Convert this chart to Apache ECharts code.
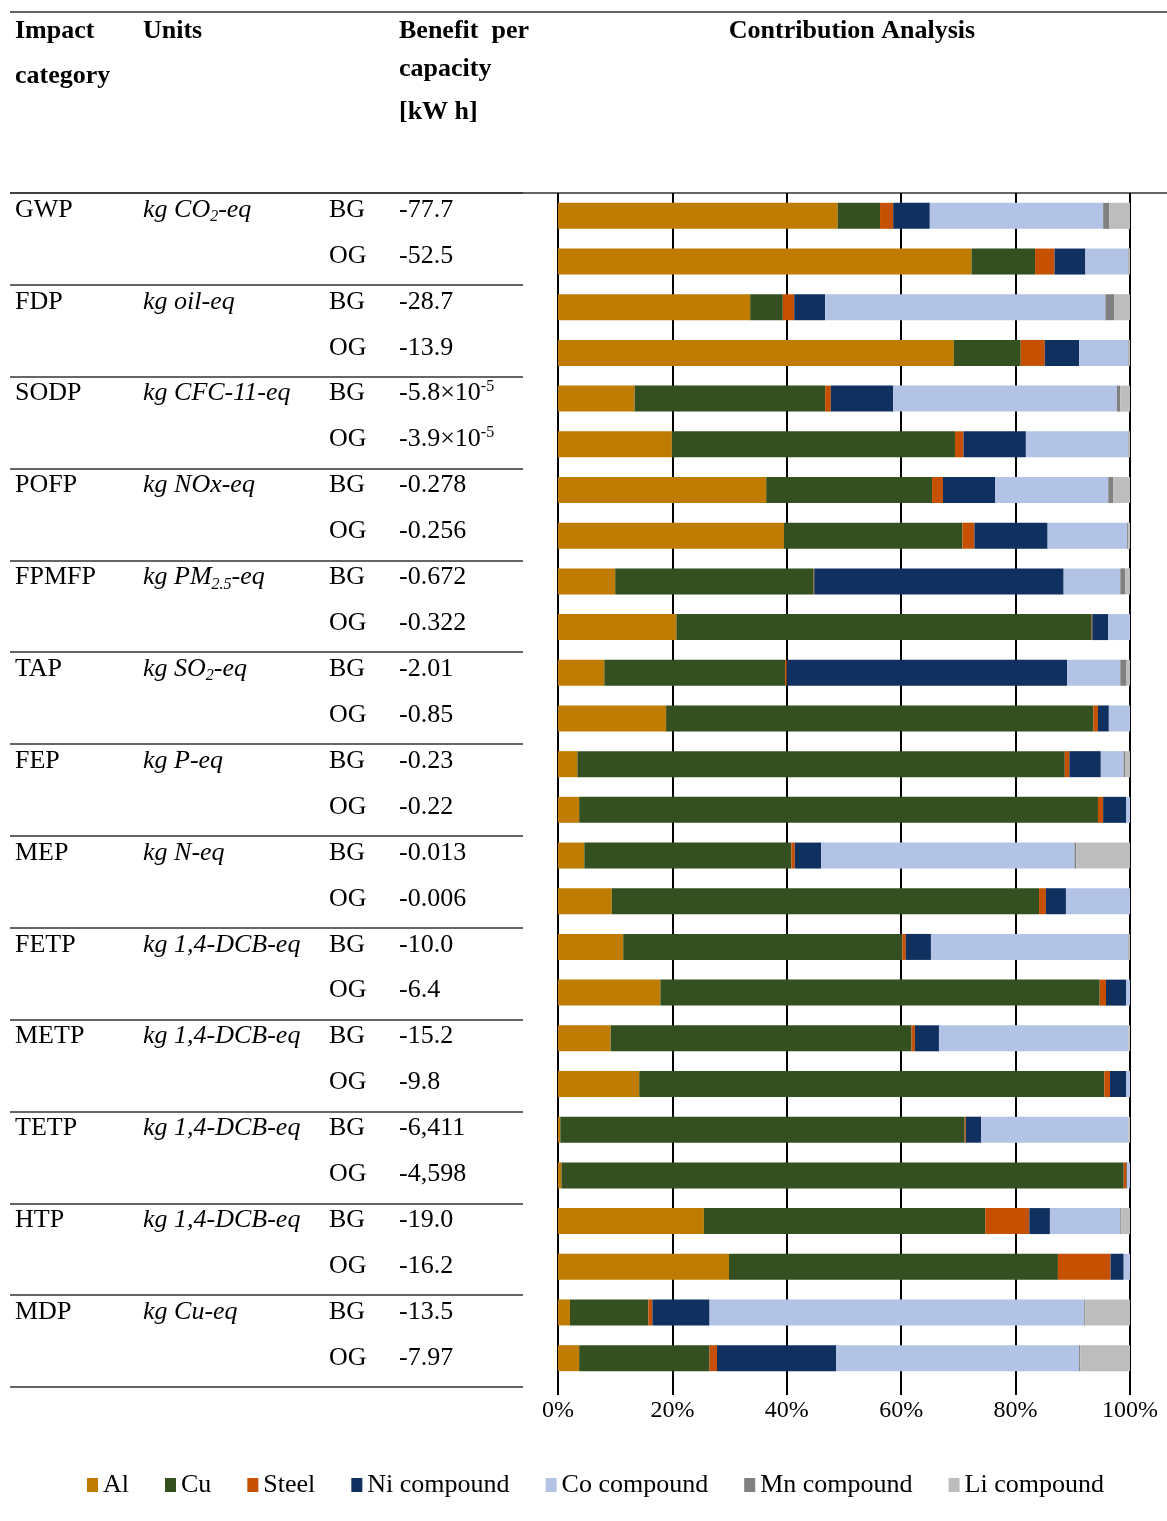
<!DOCTYPE html>
<html><head><meta charset="utf-8">
<script src="https://cdn.jsdelivr.net/npm/echarts@6/dist/echarts.min.js"></script>
<style>html,body{margin:0;padding:0;background:#fff}#c{width:1167px;height:1521px}</style>
</head><body><div id="c"></div>
<script>
// ---- data ----
const impacts = ['GWP','FDP','SODP','POFP','FPMFP','TAP','FEP','MEP','FETP','METP','TETP','HTP','MDP'];
const gridTypes = ['BG','OG'];
const units = ['kg CO{sub|2}-eq','kg oil-eq','kg CFC-11-eq','kg NOx-eq','kg PM{sub|2.5}-eq','kg SO{sub|2}-eq',
  'kg P-eq','kg N-eq','kg 1,4-DCB-eq','kg 1,4-DCB-eq','kg 1,4-DCB-eq','kg 1,4-DCB-eq','kg Cu-eq'];
const benefit = ['-77.7','-52.5','-28.7','-13.9','-5.8×10{sup|-5}','-3.9×10{sup|-5}','-0.278','-0.256',
  '-0.672','-0.322','-2.01','-0.85','-0.23','-0.22','-0.013','-0.006','-10.0','-6.4','-15.2','-9.8',
  '-6,411','-4,598','-19.0','-16.2','-13.5','-7.97'];
const headers = {impact:['Impact','category'], units:'Units', benefit:['Benefit  per','capacity','[kW h]'], chart:'Contribution Analysis'};
const materials = ['Al','Cu','Steel','Ni compound','Co compound','Mn compound','Li compound'];
// contribution shares (%) per row: GWP BG, GWP OG, FDP BG, ... MDP OG
const al    = [48.9,72.3,33.6,69.2,13.4,19.9,36.4,39.5,10.0,20.7,8.1,18.9,3.4,3.7,4.6,9.4,11.4,17.9,9.2,14.2,0.4,0.6,25.5,29.9,2.1,3.7];
const cu    = [7.4,11.1,5.7,11.7,33.3,49.5,29.0,31.2,34.7,72.6,31.6,74.7,85.2,90.7,36.2,74.7,48.8,76.8,52.6,81.3,70.7,98.3,49.2,57.5,13.7,22.8];
const steel = [2.3,3.4,2.0,4.2,1.0,1.5,1.9,2.1,0.1,0.1,0.3,0.8,0.8,0.9,0.6,1.2,0.6,1.1,0.6,1.0,0.2,0.5,7.7,9.2,0.7,1.3];
const ni    = [6.4,5.4,5.4,6.0,10.9,10.9,9.1,12.8,43.6,2.8,49.0,1.9,5.5,4.0,4.6,3.5,4.4,3.5,4.2,2.8,2.7,0.1,3.6,2.3,10.0,20.8];
const co    = [30.3,7.5,49.0,8.6,39.1,17.9,19.8,13.9,9.9,3.8,9.3,3.7,4.0,0.7,44.3,11.2,34.5,0.7,33.1,0.7,25.7,0.5,12.3,1.1,65.5,42.5];
const mn    = [1.1,0.1,1.5,0.1,0.6,0.1,0.9,0.2,0.9,0,1.0,0,0.3,0,0.3,0,0.1,0,0,0,0,0,0.2,0,0.2,0.2];
const li    = [3.6,0.2,2.8,0.2,1.7,0.2,2.9,0.3,0.8,0,0.7,0,0.8,0,9.4,0,0.2,0,0.3,0,0.3,0,1.5,0,7.8,8.7];
const seriesValues = [al,cu,steel,ni,co,mn,li];

// ---- styles ----
const colors = ['#BF7C00','#344F20','#C45000','#10305F','#B3C3E6','#808080','#BDBDBD'];
const FONT = "'Liberation Serif','Times New Roman',serif";
const FS = 26;
const rows = impacts.flatMap(i => gridTypes.map(g => i + ' ' + g));
const richTok = {
  sub: {fontSize: 16, fontFamily: FONT, fontStyle: 'italic', color: '#000', verticalAlign: 'bottom', lineHeight: 14},
  sup: {fontSize: 16, fontFamily: FONT, color: '#000', verticalAlign: 'top', lineHeight: 14}
};
function labelStyle(formatter, italic) {
  return {inside: true, margin: 5, interval: 0, formatter: formatter, fontFamily: FONT, fontSize: FS,
    fontStyle: italic ? 'italic' : 'normal', color: '#000', lineHeight: 30, verticalAlign: 'middle',
    padding: [0,0,12,0], rich: richTok};
}
function tableAxis(offset, formatter, italic, extra) {
  return Object.assign({
    type: 'category', gridIndex: 0, data: rows, inverse: true, position: 'left', offset: offset,
    axisLine: {show: false}, axisTick: {show: false}, splitLine: {show: false},
    axisLabel: labelStyle(formatter, italic)
  }, extra || {});
}

const chart = echarts.init(document.getElementById('c'), null, {renderer: 'canvas'});
const hdr = (text, x, y, align) => ({type: 'text', x: x, y: y,
  style: {text: text, font: 'bold 26px ' + FONT, fill: '#000', align: align || 'left', verticalAlign: 'middle'}});

chart.setOption({
  backgroundColor: '#fff',
  animation: false,
  grid: [
    {left: 10, width: 513, top: 193, bottom: 134, outerBoundsMode: 'none'},
    {left: 558, right: 37, top: 193, bottom: 140, outerBoundsMode: 'none'}
  ],
  xAxis: [
    {type: 'value', gridIndex: 0, show: false, min: 0, max: 1},
    {type: 'value', gridIndex: 1, min: 0, max: 100, interval: 20,
      axisLine: {show: false},
      axisTick: {show: true, length: 14, lineStyle: {color: '#000', width: 2}},
      splitLine: {show: true, lineStyle: {color: '#000', width: 2}},
      axisLabel: {formatter: v => v + '%', fontFamily: FONT, fontSize: 24, color: '#000', margin: 18}}
  ],
  yAxis: [
    tableAxis(0, (v, i) => i % 2 === 0 ? impacts[i / 2] : '', false, {
      splitLine: {show: true, interval: (i) => i % 2 === 0, lineStyle: {color: '#333', width: 1.5}}}),
    tableAxis(-128, (v, i) => i % 2 === 0 ? units[i / 2] : '', true),
    tableAxis(-314, (v, i) => gridTypes[i % 2], false),
    tableAxis(-384, (v, i) => benefit[i], false),
    {type: 'category', gridIndex: 1, data: rows, inverse: true,
      axisLine: {show: false}, axisTick: {show: false}, axisLabel: {show: false}, splitLine: {show: false}}
  ],
  legend: {
    data: materials, left: 82, top: 1467, icon: 'rect', itemWidth: 11, itemHeight: 14, itemGap: 36,
    textStyle: {fontFamily: FONT, fontSize: FS, color: '#000'}
  },
  graphic: [
    {type: 'line', shape: {x1: 10, y1: 12, x2: 1167, y2: 12}, style: {stroke: '#333', lineWidth: 1.5}},
    {type: 'line', shape: {x1: 10, y1: 193, x2: 1167, y2: 193}, style: {stroke: '#333', lineWidth: 1.5}},
    hdr(headers.impact[0], 15, 31), hdr(headers.impact[1], 15, 76),
    hdr(headers.units, 143, 31),
    hdr(headers.benefit[0], 399, 31), hdr(headers.benefit[1], 399, 69), hdr(headers.benefit[2], 399, 112),
    hdr(headers.chart, 852, 31, 'center')
  ],
  series: materials.map((m, k) => ({
    name: m, type: 'bar', stack: 'total', xAxisIndex: 1, yAxisIndex: 4, barWidth: 26,
    itemStyle: {color: colors[k]}, data: seriesValues[k]
  }))
});
</script></body></html>
